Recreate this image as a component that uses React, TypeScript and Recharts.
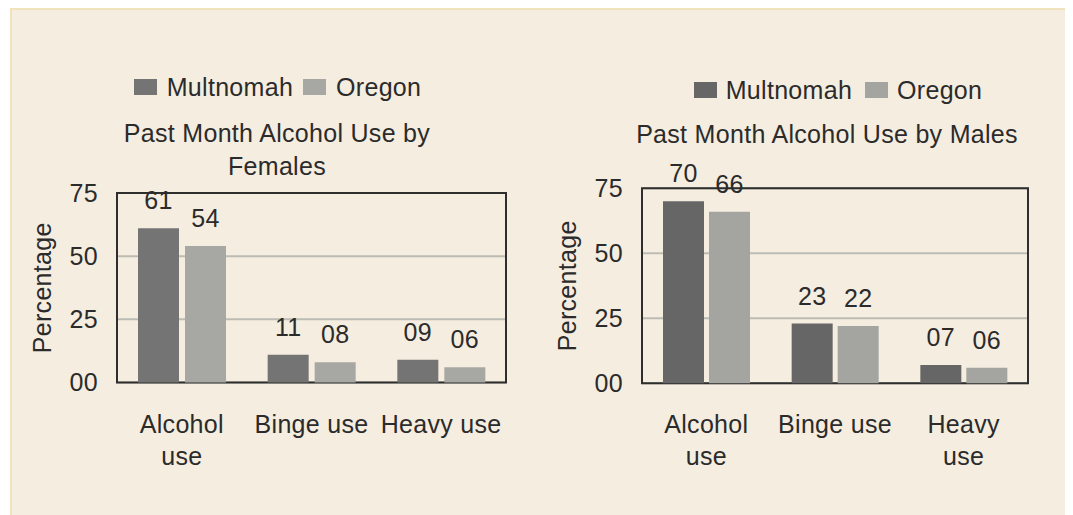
import React from 'react';
import { BarChart, Bar, XAxis, YAxis, CartesianGrid, Legend, LabelList, ReferenceArea } from 'recharts';

const categories = ['Alcohol use', 'Binge use', 'Heavy use'];
const femaleTickLabels = ['Alcohol\nuse', 'Binge use', 'Heavy use'];
const maleTickLabels = ['Alcohol\nuse', 'Binge use', 'Heavy\nuse'];
const femaleMultnomah = [61, 11, 9];
const femaleOregon = [54, 8, 6];
const maleMultnomah = [70, 23, 7];
const maleOregon = [66, 22, 6];
const yTicks = [0, 25, 50, 75];
const seriesNames = ['Multnomah', 'Oregon'];
const femaleTitle = 'Past Month Alcohol Use by Females';
const maleTitle = 'Past Month Alcohol Use by Males';
const yAxisTitle = 'Percentage';

const FONT = '"Liberation Sans", Arial, Helvetica, sans-serif';
const TEXT = '#2b2b2b';
const FS = 25;
const LS = 0.3;

const femaleData = categories.map((c, i) => ({
  category: c,
  [seriesNames[0]]: femaleMultnomah[i],
  [seriesNames[1]]: femaleOregon[i],
}));
const maleData = categories.map((c, i) => ({
  category: c,
  [seriesNames[0]]: maleMultnomah[i],
  [seriesNames[1]]: maleOregon[i],
}));

const pad2 = (v: any) => String(Math.round(Number(v))).padStart(2, '0');

const makeXTick = (labels: string[]) => (props: any) => {
  const { x, y, payload } = props;
  const idx = payload.index ?? categories.indexOf(payload.value);
  const lines = (labels[idx] ?? String(payload.value)).split('\n');
  return (
    <text x={x} y={y} textAnchor="middle" fill={TEXT} fontSize={FS} fontFamily={FONT} letterSpacing={LS}>
      {lines.map((ln, i) => (
        <tspan key={i} x={x} dy={i === 0 ? 42 : 32}>
          {ln}
        </tspan>
      ))}
    </text>
  );
};

const YTitle = (props: any) => {
  const vb = props.viewBox || {};
  const cx = vb.x + vb.width - 75;
  const cy = vb.y + vb.height / 2;
  return (
    <text
      x={cx}
      y={cy}
      transform={`rotate(-90, ${cx}, ${cy})`}
      textAnchor="middle"
      dominantBaseline="central"
      fill={TEXT}
      fontSize={FS}
      fontFamily={FONT}
      letterSpacing={LS}
    >
      {yAxisTitle}
    </text>
  );
};

const makeLegend = (gapSwatch: number, gapItem: number) => (props: any) => {
  const { payload } = props;
  return (
    <div style={{ display: 'flex', justifyContent: 'center', alignItems: 'center', fontFamily: FONT, fontSize: FS, color: TEXT, letterSpacing: LS, lineHeight: '30px', whiteSpace: 'nowrap' }}>
      {(payload || []).map((p: any, i: number) => (
        <div key={i} style={{ display: 'flex', alignItems: 'center', marginLeft: i === 0 ? 0 : gapItem }}>
          <span style={{ display: 'inline-block', width: 23, height: 16, background: p.color, marginRight: gapSwatch }} />
          <span>{p.value}</span>
        </div>
      ))}
    </div>
  );
};

type PanelProps = {
  data: any[];
  tickLabels: string[];
  width: number;
  height: number;
  margin: { top: number; right: number; bottom: number; left: number };
  colors: string[];
  barGap: number;
  legendCenterX: number;
  legendCenterY: number;
  legendGaps: [number, number];
};

const Panel = (p: PanelProps) => (
  <BarChart
    width={p.width}
    height={p.height}
    data={p.data}
    margin={p.margin}
    barGap={p.barGap}
    barSize={41}
    style={{ fontFamily: FONT }}
  >
    <CartesianGrid vertical={false} stroke="#bdbcb4" strokeWidth={2} />
    <XAxis
      dataKey="category"
      height={60}
      axisLine={false}
      tickLine={false}
      tickSize={8}
      tickMargin={0}
      interval={0}
      tick={makeXTick(p.tickLabels)}
    />
    <YAxis
      domain={[0, 75]}
      ticks={yTicks}
      width={60}
      axisLine={false}
      tickLine={false}
      tickSize={12}
      tickMargin={7}
      tickFormatter={pad2}
      tick={{ fill: TEXT, fontSize: FS, fontFamily: FONT, letterSpacing: LS }}
      label={<YTitle />}
    />
    <Legend
      layout="horizontal"
      verticalAlign="middle"
      align="center"
      wrapperStyle={{ left: p.legendCenterX - 200, top: p.legendCenterY - 15, width: 400, height: 30 }}
      content={makeLegend(p.legendGaps[0], p.legendGaps[1])}
    />
    {seriesNames.map((s, i) => (
      <Bar key={s} dataKey={s} fill={p.colors[i]} isAnimationActive={false}>
        <LabelList
          dataKey={s}
          position="top"
          offset={19}
          formatter={pad2}
          fill={TEXT}
          fontSize={FS}
          fontFamily={FONT}
          letterSpacing={LS}
        />
      </Bar>
    ))}
    <ReferenceArea y1={0} y2={75} fill="none" fillOpacity={0} stroke="#2e2e2e" strokeWidth={2} ifOverflow="visible" />
  </BarChart>
);

const titleStyle: React.CSSProperties = {
  position: 'absolute',
  fontFamily: FONT,
  fontSize: FS,
  color: TEXT,
  letterSpacing: LS,
  textAlign: 'center',
  lineHeight: '33px',
};

export default function App() {
  return (
    <div
      style={{
        position: 'relative',
        marginLeft: 2,
        width: 1057,
        height: 507,
        background: '#f5ede0',
        boxShadow: 'inset 2px 2px 0 #efe2bd, inset -2px 0 0 #efe2bd',
        overflow: 'hidden',
      }}
    >
      <div style={{ position: 'absolute', left: 0, top: 0 }}>
        <Panel
          data={femaleData}
          tickLabels={femaleTickLabels}
          width={530}
          height={505}
          margin={{ top: 185, right: 34, bottom: 70.5, left: 47 }}
          colors={['#747474', '#a7a7a3']}
          barGap={6}
          legendCenterX={267.5}
          legendCenterY={79}
          legendGaps={[10, 10]}
        />
      </div>
      <div style={{ position: 'absolute', left: 530, top: 0 }}>
        <Panel
          data={maleData}
          tickLabels={maleTickLabels}
          width={527}
          height={505}
          margin={{ top: 180.3, right: 39, bottom: 69.7, left: 42 }}
          colors={['#666666', '#a4a4a0']}
          barGap={5}
          legendCenterX={298}
          legendCenterY={82}
          legendGaps={[9, 13]}
        />
      </div>
      <div style={{ ...titleStyle, left: 267 - 170, top: 108.5, width: 340 }}>{femaleTitle}</div>
      <div style={{ ...titleStyle, left: 817 - 250, top: 109.5, width: 500 }}>{maleTitle}</div>
    </div>
  );
}
